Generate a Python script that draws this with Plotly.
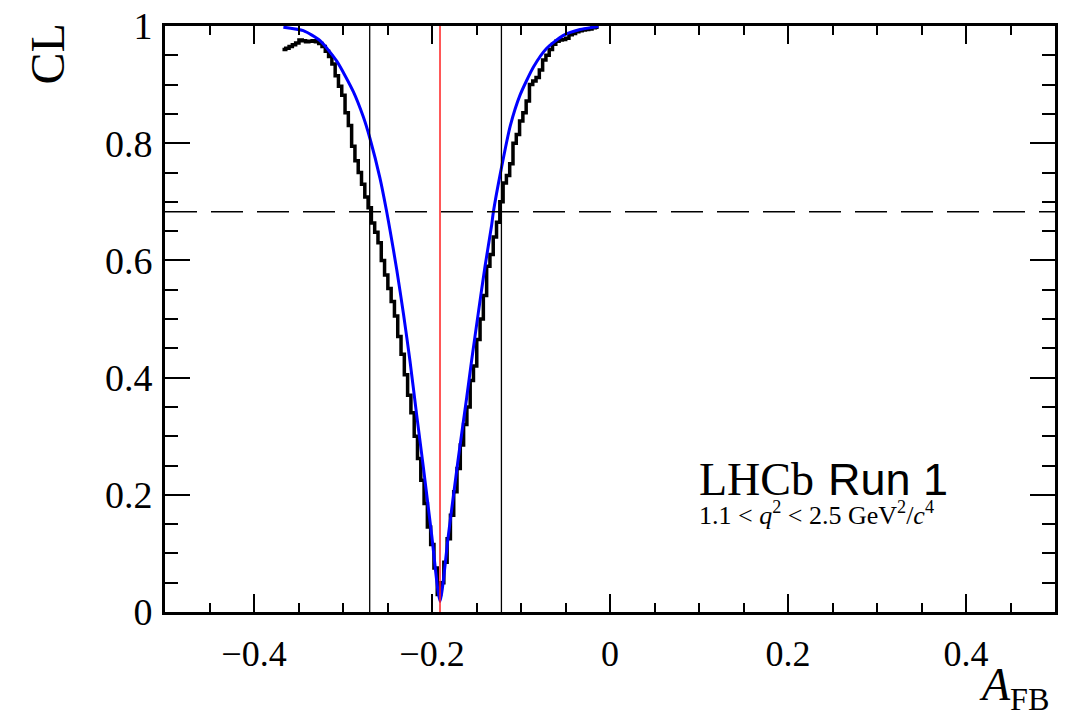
import numpy as np
import plotly.graph_objects as go

# ---------------- data ----------------
# black step histogram (scan of CL), 96 bins between these edges
hist_lo, hist_hi, hist_nbins = -0.368, -0.0128, 96
hist_cl = [
    0.960, 0.962, 0.965, 0.968, 0.971, 0.976, 0.975, 0.973, 0.974, 0.975,
    0.973, 0.970, 0.965, 0.957, 0.948, 0.935, 0.915, 0.897, 0.882, 0.852,
    0.830, 0.795, 0.770, 0.750, 0.730, 0.708, 0.690, 0.664, 0.648, 0.630,
    0.600, 0.575, 0.552, 0.530, 0.505, 0.470, 0.440, 0.405, 0.370, 0.340,
    0.300, 0.262, 0.225, 0.185, 0.145, 0.115, 0.075, 0.030, 0.050, 0.085,
    0.125, 0.165, 0.205, 0.245, 0.285, 0.320, 0.350, 0.395, 0.420, 0.465,
    0.500, 0.540, 0.590, 0.610, 0.640, 0.665, 0.700, 0.732, 0.745, 0.765,
    0.800, 0.815, 0.838, 0.852, 0.872, 0.900, 0.906, 0.912, 0.925, 0.942,
    0.950, 0.960, 0.969, 0.974, 0.976, 0.977, 0.979, 0.985, 0.987, 0.990,
    0.992, 0.993, 0.994, 0.995, 0.997, 0.998,
]

# blue smooth curve
blue_x = [-0.367, -0.3446, -0.3258, -0.307, -0.2884, -0.2772, -0.2697, -0.2584,
          -0.2509, -0.2472, -0.2397, -0.232, -0.2247, -0.2172, -0.2098, -0.2004,
          -0.191, -0.1817, -0.1705, -0.161, -0.1554, -0.148, -0.1404, -0.133,
          -0.131, -0.1217, -0.112, -0.1011, -0.086, -0.0711, -0.0524, -0.0337, -0.013]
blue_cl = [0.998, 0.992, 0.975, 0.940, 0.888, 0.845, 0.808, 0.740,
           0.683, 0.652, 0.585, 0.508, 0.428, 0.336, 0.248, 0.132,
           0.018, 0.130, 0.262, 0.366, 0.430, 0.510, 0.590, 0.660,
           0.683, 0.760, 0.830, 0.882, 0.930, 0.962, 0.984, 0.994, 0.999]

best_fit = -0.191          # red line
interval = [-0.270, -0.122]  # black vertical lines
cl_level = 0.683          # dashed horizontal line

x_ticks = [-0.4, -0.2, 0, 0.2, 0.4]
x_ticktext = ["\u22120.4", "\u22120.2", "0", "0.2", "0.4"]
y_ticks = [0, 0.2, 0.4, 0.6, 0.8, 1]
y_ticktext = ["0", "0.2", "0.4", "0.6", "0.8", "1"]

# ---------------- figure ----------------
edges = np.linspace(hist_lo, hist_hi, hist_nbins + 1)
step_x = list(edges)
step_y = list(hist_cl) + [hist_cl[-1]]

fig = go.Figure()
fig.add_trace(go.Scatter(x=step_x, y=step_y, mode="lines", line_shape="hv",
                         line=dict(color="black", width=3.5), showlegend=False))
fig.add_trace(go.Scatter(x=blue_x, y=blue_cl, mode="lines", line_shape="spline",
                         line=dict(color="#0000ff", width=3, smoothing=0.6), showlegend=False))

for xv in interval:
    fig.add_shape(type="line", x0=xv, x1=xv, y0=0, y1=1, xref="x", yref="y",
                  line=dict(color="black", width=1.3), layer="above")
fig.add_shape(type="line", x0=best_fit, x1=best_fit, y0=0, y1=1, xref="x", yref="y",
              line=dict(color="#ff2020", width=1.5), layer="above")
fig.add_shape(type="line", x0=-0.5, x1=0.5, y0=cl_level, y1=cl_level, xref="x", yref="y",
              line=dict(color="black", width=1.3, dash="32px,14px"), layer="above")

serif = "Liberation Serif"
sans = "Liberation Sans"

fig.update_layout(
    template=None,
    width=1074, height=719,
    margin=dict(l=165, r=19, t=26, b=107, autoexpand=False),
    paper_bgcolor="white", plot_bgcolor="white",
    font=dict(family=serif, color="black"),
    xaxis=dict(range=[-0.5, 0.5], tickvals=x_ticks, ticktext=x_ticktext, automargin=False,
               ticks="inside", ticklen=18, tickwidth=2, tickcolor="black",
               showline=True, linewidth=3, linecolor="black", mirror="allticks",
               showgrid=False, zeroline=False,
               tickfont=dict(family=serif, size=36, color="black"),
               ticklabelstandoff=8,
               minor=dict(dtick=0.05, ticks="inside", ticklen=9, tickwidth=2,
                          tickcolor="black", showgrid=False)),
    yaxis=dict(range=[0, 1], tickvals=y_ticks, ticktext=y_ticktext, automargin=False,
               ticks="inside", ticklen=25, tickwidth=2, tickcolor="black",
               showline=True, linewidth=3, linecolor="black", mirror="allticks",
               showgrid=False, zeroline=False,
               tickfont=dict(family=serif, size=38, color="black"),
               ticklabelstandoff=2,
               minor=dict(dtick=0.05, ticks="inside", ticklen=13, tickwidth=2,
                          tickcolor="black", showgrid=False)),
)

ann = []
# y-axis title
ann.append(dict(text="CL", xref="paper", yref="paper", x=(47 - 165) / 890, y=(612 - 22) / 585,
                xanchor="center", yanchor="top", textangle=-90, showarrow=False,
                font=dict(family=serif, size=48, color="black")))
# x-axis title
ann.append(dict(text="<i>A</i><sub>FB</sub>", xref="paper", yref="paper",
                x=(1051 - 165) / 890, y=(612 - 719) / 585,
                xanchor="right", yanchor="bottom", showarrow=False,
                font=dict(family=serif, size=46, color="black")))
# LHCb label
ann.append(dict(text="LHCb", xref="paper", yref="paper", x=(697 - 165) / 890, y=(612 - 507) / 585,
                xanchor="left", yanchor="bottom", showarrow=False,
                font=dict(family=serif, size=46, color="black")))
ann.append(dict(text="Run 1", xref="paper", yref="paper", x=(826 - 165) / 890, y=(612 - 507) / 585,
                xanchor="left", yanchor="bottom", showarrow=False,
                font=dict(family=sans, size=45, color="black")))
ann.append(dict(text="1.1 < <i>q</i><sup>2</sup> < 2.5 GeV<sup>2</sup>/<i>c</i><sup>4</sup>",
                xref="paper", yref="paper", x=(697 - 165) / 890, y=(612 - 532) / 585,
                xanchor="left", yanchor="bottom", showarrow=False,
                font=dict(family=serif, size=26, color="black")))
fig.update_layout(annotations=ann)

fig.write_html("out.html")
